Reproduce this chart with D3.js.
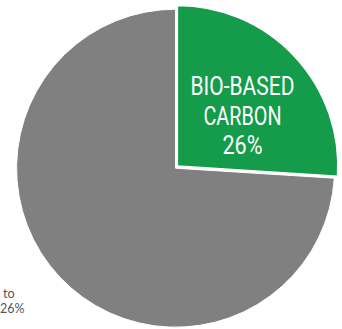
<!DOCTYPE html>
<html>
<head>
<meta charset="utf-8">
<script src="https://cdn.jsdelivr.net/npm/d3@7"></script>
<style>
html,body{margin:0;padding:0;background:#fff;}
svg{display:block;}
</style>
</head>
<body>
<svg id="chart" width="342" height="329"></svg>
<script>
const categories = ["BIO-BASED CARBON", "OTHER CARBON"];
const values = [26, 74];
const colors = ["#149c4b", "#808080"];
const greenLabel = ["BIO-BASED", "CARBON", "26%"];
const sideLabel = ["to", "26%"];

const svg = d3.select("#chart");
const cx = 175.6, cy = 168.2, r = 159;

const pie = d3.pie().sort(null).value(d => d.v);
const arcs = pie(categories.map((c, i) => ({c, v: values[i], col: colors[i]})));

const arcGray = d3.arc().innerRadius(0).outerRadius(r);
const arcGreen = d3.arc().innerRadius(0).outerRadius(160.5);

const g = svg.append("g").attr("transform", `translate(${cx},${cy})`);

g.append("path")
  .datum(arcs[1])
  .attr("d", arcGray)
  .attr("fill", d => d.data.col)
  .attr("stroke", "#fff")
  .attr("stroke-width", 1);

const explode = 2.4;
const mid = (arcs[0].startAngle + arcs[0].endAngle) / 2;
const gGreen = g.append("g")
  .attr("transform", `translate(${explode * Math.sin(mid)},${-explode * Math.cos(mid) - 0.5})`);
gGreen.append("path")
  .datum(arcs[0])
  .attr("d", arcGreen)
  .attr("fill", d => d.data.col)
  .attr("stroke", "#fff")
  .attr("stroke-width", 1.5);

const lab = svg.append("g").attr("font-family", "'Liberation Sans Narrow', 'Roboto', sans-serif")
  .attr("font-weight", 400)
  .attr("fill", "#fff").attr("font-size", 25).attr("text-anchor", "middle");
const baselines = [95, 124.5, 153.5];
const widths = [104, 78, 40];
greenLabel.forEach((t, i) => {
  lab.append("text").attr("x", 242.5).attr("y", baselines[i])
    .attr("textLength", widths[i]).attr("lengthAdjust", "spacingAndGlyphs")
    .text(t);
});

const side = svg.append("g").attr("font-family", "'Lato', 'Open Sans', sans-serif")
  .attr("fill", "#555").attr("font-size", 12.5).attr("text-anchor", "end");
side.append("text").attr("x", 14.5).attr("y", 298).text(sideLabel[0]);
side.append("text").attr("x", 24.5).attr("y", 312.5).text(sideLabel[1]);
</script>
</body>
</html>
